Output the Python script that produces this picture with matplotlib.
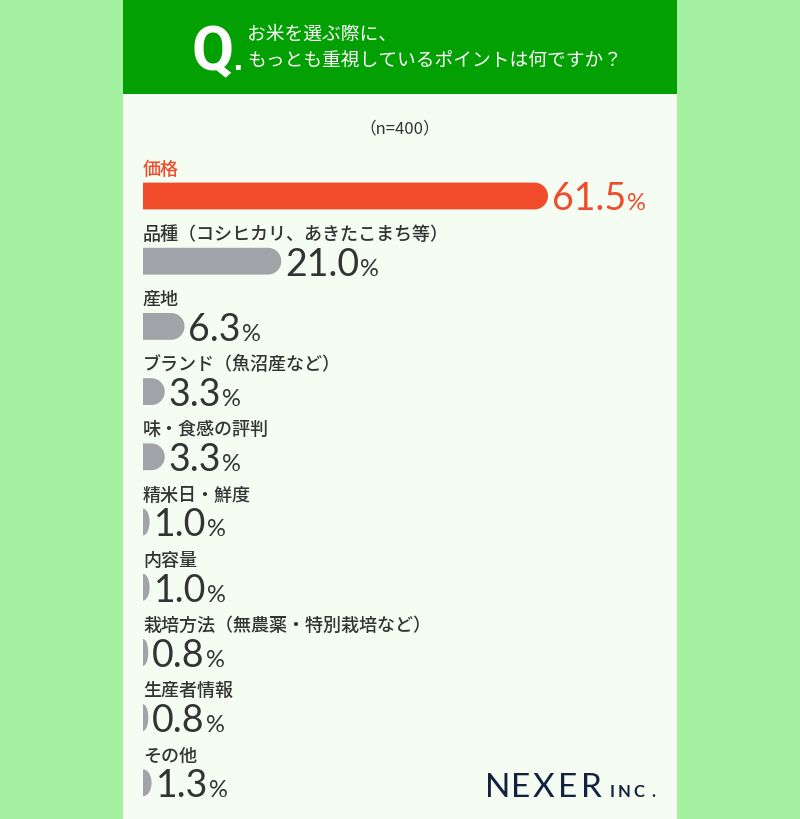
#Recreation of the NEXER survey chart: what matters most when buying rice
import numpy as np
import matplotlib.pyplot as plt
from matplotlib.patches import Rectangle

#Survey data
labels = ['価格', '品種（コシヒカリ、あきたこまち等）', '産地', 'ブランド（魚沼産など）',
          '味・食感の評判', '精米日・鮮度', '内容量', '栽培方法（無農薬・特別栽培など）',
          '生産者情報', 'その他']
values = [61.5, 21.0, 6.3, 3.3, 3.3, 1.0, 1.0, 0.8, 0.8, 1.3]
n_total = 400
question = ['お米を選ぶ際に、', 'もっとも重視しているポイントは何ですか？']

#Colours
outer_green = '#a3f0a0'
header_green = '#03a003'
panel_col = '#f5fdf3'
red = '#f04b2b'
grey = '#a2a3a8'
text_col = '#333333'
navy = '#12213f'

jp = ['Noto Sans CJK JP', 'DejaVu Sans']
num_font = ['Lato', 'DejaVu Sans']

W, H = 800, 820
fig = plt.figure(figsize=(W/100, H/100), dpi=100)
fig.patch.set_facecolor(outer_green)

#Background layer in pixel coordinates
bg = fig.add_axes([0, 0, 1, 1])
bg.set_xlim(0, W)
bg.set_ylim(H, 0)
bg.axis('off')
bg.add_patch(Rectangle((123, 0), 554, H, color=panel_col, lw=0))
bg.add_patch(Rectangle((123, 0), 554, 95, color=header_green, lw=0))

#Header
bg.text(191, 70, 'Q', color='white', fontsize=44, fontweight='bold',
        family=['Roboto', 'DejaVu Sans'], va='baseline', ha='left')
bg.text(232, 70, '.', color='white', fontsize=20, fontweight='bold',
        family=['DejaVu Sans'], va='baseline', ha='left')
bg.text(247, 34, question[0], color='white', fontsize=13.5, family=jp, va='center')
bg.text(247, 61, question[1], color='white', fontsize=13.5, family=jp, va='center')
bg.text(400, 129, f'（n={n_total}）', color=text_col, fontsize=12, family=jp,
        ha='center', va='center')

#Logo
for ch, xpos in zip('NEXER', [485, 511, 533, 558, 581]):
    bg.text(xpos, 797, ch, color=navy, fontsize=24, family=num_font,
            va='baseline', ha='left')
for ch, xpos in zip('INC.', [610, 618, 633, 651]):
    bg.text(xpos, 797, ch, color=navy, fontsize=12, fontweight='bold',
            family=num_font, va='baseline', ha='left')

#Chart axes: x in percent, y in row index
px_per_pct = 405 / 61.5
row_gap = 65.2
first_row = 197
ax = fig.add_axes([143/W, 0, (677-143)/W, (H-100)/H])
ax.set_xlim(0, (677-143)/px_per_pct)
ax.set_ylim((H-first_row)/row_gap, (100-first_row)/row_gap)
ax.axis('off')

hh = 13.4 / row_gap          #half bar height in row units
r = 13.4 / px_per_pct        #end radius in percent units
t = np.linspace(-np.pi/2, np.pi/2, 40)

fig.canvas.draw()
renderer = fig.canvas.get_renderer()

for i, (lab, v) in enumerate(zip(labels, values)):
    col = red if i == 0 else grey
    rx = min(r, v)
    xs = np.concatenate([[0], (v - rx) + rx*np.cos(t), [0]])
    ys = np.concatenate([[i - hh], i + hh*np.sin(t), [i + hh]])
    ax.fill(xs, ys, color=col, lw=0)

    ax.text(0, i - 0.42, lab, color=red if i == 0 else text_col, fontsize=13,
            fontweight='medium', family=jp, va='center', ha='left')

    ncol = red if i == 0 else text_col
    num = ax.annotate(f'{v:.1f}', xy=(v, i + hh), xytext=(4*0.72, 0),
                      textcoords='offset points', color=ncol, fontsize=27,
                      family=num_font, va='baseline', ha='left')
    wpx = num.get_window_extent(renderer).width
    ax.annotate('%', xy=(v, i + hh), xytext=((4 + wpx + 1)*0.72, 0),
                textcoords='offset points', color=ncol, fontsize=17,
                family=num_font, va='baseline', ha='left')

plt.savefig('out.png', dpi=100, facecolor=fig.get_facecolor())
